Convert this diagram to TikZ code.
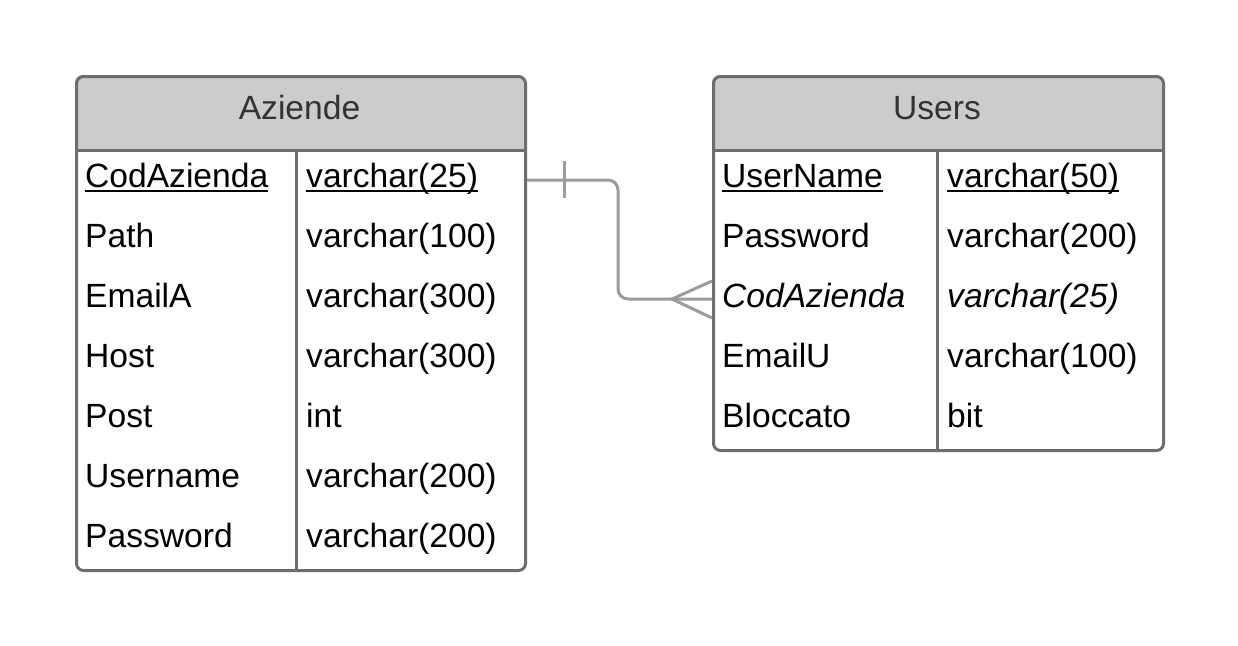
\documentclass[tikz,border=0pt]{standalone}
\usepackage{fontspec}
\setmainfont{Liberation Sans}
\definecolor{bord}{HTML}{6E6E6E}
\definecolor{head}{HTML}{CCCCCC}
\definecolor{conn}{HTML}{9C9C9C}
\definecolor{htext}{HTML}{333333}
\newcommand\ulin[1]{\setbox0\hbox{#1}\rlap{\rule[-4.5pt]{\wd0}{2pt}}\box0}
\begin{document}
\begin{tikzpicture}[x=1pt,y=-1pt,
  tbl/.style={draw=bord,line width=3pt,rounded corners=7pt,inner sep=0pt,anchor=north west},
  sep/.style={draw=bord,line width=3pt},
  hdr/.style={fill=head},
  title/.style={anchor=base,inner sep=0pt,text=htext,font=\fontsize{33.6}{40}\selectfont},
  cell/.style={anchor=base west,inner sep=0pt,font=\fontsize{33.6}{40}\selectfont},
  conn/.style={draw=conn,line width=3pt}]
\useasboundingbox[fill=white] (0,0) rectangle (1238,645);

% ---------- Aziende ----------
\fill[hdr] (75,150) [rounded corners=7pt] -- (75,75) -- (524,75) [sharp corners] -- (524,150) -- cycle;
\draw[sep] (75,150) -- (524,150);
\draw[sep] (296,150) -- (296,569);
\node[tbl,minimum width=449pt,minimum height=494pt] (aziende) at (75,75) {};
\node[title] (aziendeT) at (299.5,119) {Aziende};
\node[cell] (a1) at (85,187) {\ulin{CodAzienda}};
\node[cell] (a1t) at (306,187) {\ulin{varchar(25)}};
\node[cell] (a2) at (85,247) {Path};
\node[cell] (a2t) at (306,247) {varchar(100)};
\node[cell] (a3) at (85,307) {EmailA};
\node[cell] (a3t) at (306,307) {varchar(300)};
\node[cell] (a4) at (85,367) {Host};
\node[cell] (a4t) at (306,367) {varchar(300)};
\node[cell] (a5) at (85,427) {Post};
\node[cell] (a5t) at (306,427) {int};
\node[cell] (a6) at (85,487) {Username};
\node[cell] (a6t) at (306,487) {varchar(200)};
\node[cell] (a7) at (85,547) {Password};
\node[cell] (a7t) at (306,547) {varchar(200)};

% ---------- Users ----------
\fill[hdr] (712,150) [rounded corners=7pt] -- (712,75) -- (1162,75) [sharp corners] -- (1162,150) -- cycle;
\draw[sep] (712,150) -- (1162,150);
\draw[sep] (937,150) -- (937,449);
\node[tbl,minimum width=450pt,minimum height=374pt] (users) at (712,75) {};
\node[title] (usersT) at (937,119) {Users};
\node[cell] (u1) at (722,187) {\ulin{UserName}};
\node[cell] (u1t) at (947,187) {\ulin{varchar(50)}};
\node[cell] (u2) at (722,247) {Password};
\node[cell] (u2t) at (947,247) {varchar(200)};
\node[cell] (u3) at (722,307) {\itshape CodAzienda};
\node[cell] (u3t) at (947,307) {\itshape varchar(25)};
\node[cell] (u4) at (722,367) {EmailU};
\node[cell] (u4t) at (947,367) {varchar(100)};
\node[cell] (u5) at (722,427) {Bloccato};
\node[cell] (u5t) at (947,427) {bit};

% ---------- relationship ----------
\coordinate (fkS) at (aziende.east |- 0,180);
\coordinate (fkE) at (users.west |- 0,299);
\draw[conn,rounded corners=10pt] (fkS) -- (618,180) -- (618,299) -- (fkE);
\draw[conn] (564,161) -- (564,198);
\draw[conn] (fkE |- 0,281) -- (672,299) -- (fkE |- 0,318);
\end{tikzpicture}
\end{document}
